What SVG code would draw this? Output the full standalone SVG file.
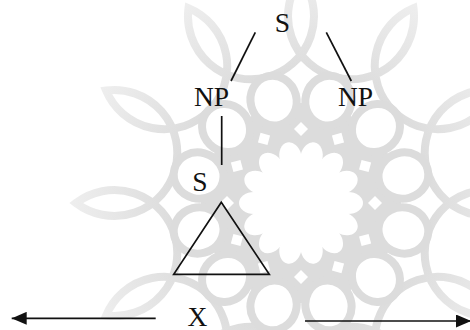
<svg xmlns="http://www.w3.org/2000/svg" width="470" height="330" viewBox="0 0 470 330">
<style>
.lbl{font-family:"Liberation Serif","Times New Roman",serif;font-size:27.5px;fill:#111;text-anchor:middle}
.ln{stroke:#111;stroke-width:1.7;fill:none}
.wm{fill:none;stroke:url(#fade);stroke-width:8}
</style>
<defs>
<radialGradient id="fade" gradientUnits="userSpaceOnUse" cx="0" cy="0" r="230">
<stop offset="0.55" stop-color="#dcdcdc"/>
<stop offset="1" stop-color="#eeeeee"/>
</radialGradient>
<marker id="ah" viewBox="0 0 15 13" refX="15" refY="6.5" markerWidth="15" markerHeight="13" markerUnits="userSpaceOnUse" orient="auto">
<path d="M0,0 L15,6.5 L0,13 Z" fill="#111"/>
</marker>
<ellipse id="loop" rx="25" ry="23" fill="#fff" stroke="#dcdcdc" stroke-width="8"/>
<ellipse id="pet" rx="15" ry="11" fill="#fff"/>
<path id="dia" d="M0,-7 L7,0 L0,7 L-7,0 Z" fill="#fff"/>
</defs>
<rect width="470" height="330" fill="#fff"/>
<g id="watermark" transform="translate(301,203)">
<path class="wm" d="M225,0 A63 63 0 1 0 194.9,112.5 A63 63 0 1 0 112.5,194.9 A63 63 0 1 0 0,225 A63 63 0 1 0 -112.5,194.9 A63 63 0 1 0 -194.9,112.5 A63 63 0 1 0 -225,0 A63 63 0 1 0 -194.9,-112.5 A63 63 0 1 0 -112.5,-194.9 A63 63 0 1 0 0,-225 A63 63 0 1 0 112.5,-194.9 A63 63 0 1 0 194.9,-112.5 A63 63 0 1 0 225,0 Z"/>
<circle r="100" fill="#dcdcdc"/>
<circle r="46" fill="#fff"/>
<g>
<use href="#pet" transform="rotate(0) translate(47,0)"/>
<use href="#pet" transform="rotate(25.7) translate(47,0)"/>
<use href="#pet" transform="rotate(51.4) translate(47,0)"/>
<use href="#pet" transform="rotate(77.1) translate(47,0)"/>
<use href="#pet" transform="rotate(102.9) translate(47,0)"/>
<use href="#pet" transform="rotate(128.6) translate(47,0)"/>
<use href="#pet" transform="rotate(154.3) translate(47,0)"/>
<use href="#pet" transform="rotate(180) translate(47,0)"/>
<use href="#pet" transform="rotate(205.7) translate(47,0)"/>
<use href="#pet" transform="rotate(231.4) translate(47,0)"/>
<use href="#pet" transform="rotate(257.1) translate(47,0)"/>
<use href="#pet" transform="rotate(282.9) translate(47,0)"/>
<use href="#pet" transform="rotate(308.6) translate(47,0)"/>
<use href="#pet" transform="rotate(334.3) translate(47,0)"/>
</g>
<g>
<use href="#dia" transform="rotate(0) translate(74,0)"/>
<use href="#dia" transform="rotate(30) translate(74,0)"/>
<use href="#dia" transform="rotate(60) translate(74,0)"/>
<use href="#dia" transform="rotate(90) translate(74,0)"/>
<use href="#dia" transform="rotate(120) translate(74,0)"/>
<use href="#dia" transform="rotate(150) translate(74,0)"/>
<use href="#dia" transform="rotate(180) translate(74,0)"/>
<use href="#dia" transform="rotate(210) translate(74,0)"/>
<use href="#dia" transform="rotate(240) translate(74,0)"/>
<use href="#dia" transform="rotate(270) translate(74,0)"/>
<use href="#dia" transform="rotate(300) translate(74,0)"/>
<use href="#dia" transform="rotate(330) translate(74,0)"/>
</g>
<g>
<use href="#loop" transform="rotate(15) translate(106,0)"/>
<use href="#loop" transform="rotate(45) translate(106,0)"/>
<use href="#loop" transform="rotate(75) translate(106,0)"/>
<use href="#loop" transform="rotate(105) translate(106,0)"/>
<use href="#loop" transform="rotate(135) translate(106,0)"/>
<use href="#loop" transform="rotate(165) translate(106,0)"/>
<use href="#loop" transform="rotate(195) translate(106,0)"/>
<use href="#loop" transform="rotate(225) translate(106,0)"/>
<use href="#loop" transform="rotate(255) translate(106,0)"/>
<use href="#loop" transform="rotate(285) translate(106,0)"/>
<use href="#loop" transform="rotate(315) translate(106,0)"/>
<use href="#loop" transform="rotate(345) translate(106,0)"/>
</g>
</g>
<g id="connectors">
<line class="ln" x1="255.3" y1="32.3" x2="231" y2="81"/>
<line class="ln" x1="326.3" y1="32.3" x2="351.3" y2="81"/>
<line class="ln" x1="221.7" y1="116" x2="221.7" y2="165"/>
<line class="ln" x1="155.7" y1="318.3" x2="11.7" y2="318.3" marker-end="url(#ah)"/>
<line class="ln" x1="305" y1="321" x2="471" y2="321" marker-end="url(#ah)"/>
</g>
<g id="node-S-top"><text class="lbl" x="282.5" y="32">S</text></g>
<g id="node-NP-left"><text class="lbl" x="211.5" y="106">NP</text></g>
<g id="node-NP-right"><text class="lbl" x="355.5" y="106">NP</text></g>
<g id="node-S-low"><text class="lbl" x="200" y="191">S</text></g>
<g id="node-triangle"><polygon class="ln" points="221.3,202.3 173.7,274.3 269.3,274.3"/></g>
<g id="node-X"><text class="lbl" x="197.5" y="325.5">X</text></g>
</svg>
